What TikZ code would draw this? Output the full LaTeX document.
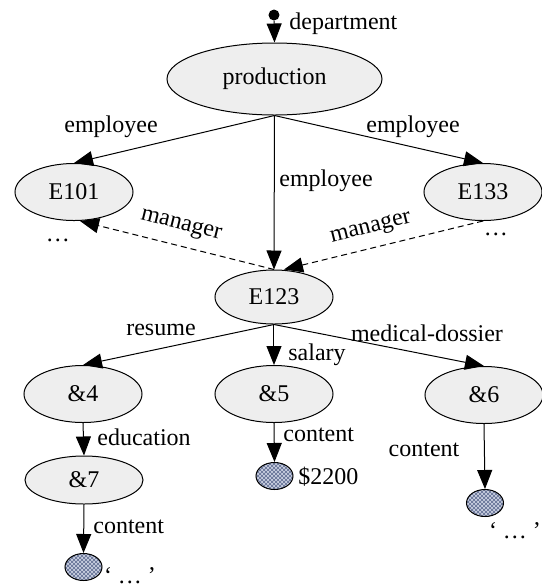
\documentclass[tikz,border=0pt]{standalone}
\usepackage{fontspec}
\setmainfont{Liberation Serif}
\usetikzlibrary{arrows.meta,shapes.geometric,patterns}

\definecolor{nodefill}{RGB}{238,238,238}
\definecolor{ballbg}{RGB}{196,202,220}
\definecolor{ballfg}{RGB}{112,124,158}

% small checker cells for the value balls
\pgfdeclarepatternformonly{finecheck}{\pgfpointorigin}{\pgfqpoint{2pt}{2pt}}{\pgfqpoint{2pt}{2pt}}{%
  \pgfpathrectangle{\pgfpointorigin}{\pgfqpoint{1pt}{1pt}}%
  \pgfpathrectangle{\pgfqpoint{1pt}{1pt}}{\pgfqpoint{1pt}{1pt}}%
  \pgfusepath{fill}}

\begin{document}
\begin{tikzpicture}[
  x=0.5pt, y=-0.5pt,
  font=\fontsize{12}{14}\selectfont,
  lbl/.style={inner sep=0pt},
  objv/.style={ellipse, draw=black, line width=0.5pt, fill=nodefill, minimum width=59pt, minimum height=28.5pt, inner sep=0pt},
  atomv/.style={ellipse, draw=black, line width=0.5pt, preaction={fill=ballbg}, pattern=finecheck, pattern color=ballfg, minimum width=18.5pt, minimum height=13.5pt, inner sep=0pt},
  rootdot/.style={circle, fill=black, minimum size=5.5pt, inner sep=0pt},
  edge/.style={draw=black, line width=0.5pt, -{Triangle[length=9.5pt,width=7.5pt]}},
  refedge/.style={edge, dashed, dash pattern=on 3pt off 2pt}
]
\useasboundingbox (0,0) rectangle (542,586);

\node[rootdot] (root) at (274, 15) {};
\node[objv, minimum width=107.5pt, minimum height=36pt] (prod) at (274.5, 79) {production};
\node[objv] (e101) at (74, 192) {E101};
\node[objv] (e133) at (483, 192) {E133};
\node[objv, minimum height=27pt] (e123) at (274, 297) {E123};
\node[objv] (r4) at (83, 394) {\&4};
\node[objv] (r5) at (274, 394) {\&5};
\node[objv] (r6) at (484, 395) {\&6};
\node[objv, minimum height=24pt] (r7) at (84, 480) {\&7};
\node[atomv] (a7) at (83.5, 567) {};
\node[atomv] (a5) at (274.5, 476) {};
\node[atomv] (a6) at (485, 503) {};

\draw[edge] (root) -- (prod.north);
\draw[edge] (prod.south) -- (e101.north);
\draw[edge] (prod.south) -- (e133.north);
\draw[edge] (prod.south) -- (e123.north);
\draw[refedge] (e123.north) -- ([xshift=3pt]e101.south);
\draw[refedge] (e133.south) -- ([xshift=5pt]e123.north);
\draw[edge] (e123.south) -- (r4.north);
\draw[edge] (e123.south) -- (r5.north);
\draw[edge] (e123.south) -- (r6.north);
\draw[edge] (r4.south) -- (r7.north);
\draw[edge] (r7.south) -- (a7.north);
\draw[edge] (r5.south) -- (a5.north);
\draw[edge] (r6.south) -- (a6.north);

\node[lbl, anchor=west] (lDept) at (289, 24) {department};
\node[lbl] (lEmpA) at (111, 127) {employee};
\node[lbl] (lEmpB) at (413, 127) {employee};
\node[lbl, anchor=west] (lEmpC) at (279, 181) {employee};
\node[lbl, rotate=-14] (lMgrA) at (181, 226) {manager};
\node[lbl, rotate=14] (lMgrB) at (371, 229) {manager};
\node[lbl] (lDotsA) at (58, 240) {\dots};
\node[lbl] (lDotsB) at (496, 234) {\dots};
\node[lbl] (lResume) at (161, 330) {resume};
\node[lbl, anchor=west] (lSalary) at (288, 355) {salary};
\node[lbl] (lMed) at (427, 333) {medical-dossier};
\node[lbl, anchor=west] (lEdu) at (97, 437) {education};
\node[lbl, anchor=west] (lCont5) at (283, 435) {content};
\node[lbl] (lCont6) at (424, 450) {content};
\node[lbl, anchor=west] (lCont7) at (93, 527) {content};
\node[lbl, anchor=west] (lVal5) at (298, 477) {\$2200};
\node[lbl, anchor=base] (lVal6) at (515, 538) {‘ … ’};
\node[lbl, anchor=base] (lVal7) at (130, 583) {‘ … ’};

\end{tikzpicture}
\end{document}
